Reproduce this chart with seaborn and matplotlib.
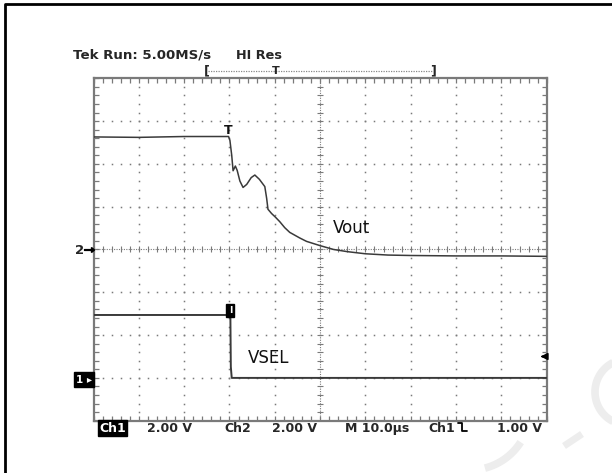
import matplotlib
matplotlib.use("Agg")
import matplotlib.pyplot as plt
import matplotlib.lines as mlines
import matplotlib.patches as mpatches
import numpy as np
import pandas as pd
import seaborn as sns

# Scope capture: time in microseconds (10 us / div), levels in screen divisions
vout_time = [0, 10, 20, 29.8, 30.1, 30.5, 30.8, 31.3, 31.7, 32.3, 33.0, 33.8, 34.8,
             35.6, 36.6, 37.8, 38.2, 38.5, 39.3, 40.1, 41.1, 42.2, 43.3, 45.5, 47.0,
             50, 53, 56, 60, 65, 70, 80, 90, 100]
vout_div = [6.63, 6.62, 6.64, 6.64, 6.55, 6.2, 5.84, 5.95, 5.85, 5.6, 5.45, 5.52, 5.68,
            5.74, 5.64, 5.47, 5.2, 4.94, 4.84, 4.76, 4.65, 4.51, 4.40, 4.27, 4.19,
            4.09, 4.0, 3.95, 3.9, 3.87, 3.86, 3.85, 3.85, 3.84]

vsel_time = [0, 30.2, 30.3, 30.5, 100]
vsel_div = [2.47, 2.47, 1.26, 1.0, 1.0]

trace_labels = ["Vout", "VSEL"]
header_text = ["Tek Run: 5.00MS/s", "HI Res"]
footer_text = ["Ch1", "2.00 V", "Ch2", "2.00 V", "M 10.0\u00b5s", "Ch1", "1.00 V"]

df_vout = pd.DataFrame({"t": vout_time, "v": vout_div})
df_vsel = pd.DataFrame({"t": vsel_time, "v": vsel_div})

sns.set_style("white")
plt.rcParams["font.family"] = ["DejaVu Sans"]

W, H = 612, 473
fig = plt.figure(figsize=(W / 100, H / 100), dpi=100)
ax = fig.add_axes([93.5 / W, 1 - 420.7 / H, 453.2 / W, 342.4 / H])

grey = "#7a7a7a"
trace_col = "#3a3a3a"

# graticule
ax.set_xlim(0, 100)
ax.set_ylim(0, 8)
ax.set_xticks(np.arange(0, 101, 10))
ax.set_yticks(np.arange(0, 9, 1))
ax.set_xticks(np.arange(0, 101, 2), minor=True)
ax.set_yticks(np.arange(0, 8.01, 0.2), minor=True)
ax.tick_params(which="both", direction="in", length=3.5, width=0.9, color=grey,
               top=True, right=True, bottom=True, left=True,
               labelbottom=False, labelleft=False)
for sp in ax.spines.values():
    sp.set_color(grey)
    sp.set_linewidth(1.6)

xs_dots = np.arange(0, 100.01, 2)
ys_dots = np.arange(0, 8.01, 0.2)
for gy in range(1, 8):
    if gy == 4:
        continue
    ax.plot(xs_dots, np.full_like(xs_dots, gy), ls="none", marker="s",
            ms=1.1, mew=0, color=grey, zorder=1)
for gx in range(10, 100, 10):
    if gx == 50:
        continue
    ax.plot(np.full_like(ys_dots, gx), ys_dots, ls="none", marker="s",
            ms=1.1, mew=0, color=grey, zorder=1)

# centre cross with minor marks
ax.axhline(4, color=grey, lw=0.8, ls=(0, (1, 1.2)), zorder=1)
ax.axvline(50, color=grey, lw=0.8, ls=(0, (1, 1.2)), zorder=1)
ax.plot(xs_dots, np.full_like(xs_dots, 4), ls="none", marker="|", ms=4,
        mew=0.8, color=grey, zorder=1)
ax.plot(np.full_like(ys_dots, 50), ys_dots, ls="none", marker="_", ms=4,
        mew=0.8, color=grey, zorder=1)

# traces
sns.lineplot(data=df_vout, x="t", y="v", ax=ax, color=trace_col, lw=1.1,
             estimator=None, sort=False, zorder=3)
sns.lineplot(data=df_vsel, x="t", y="v", ax=ax, color=trace_col, lw=1.4,
             estimator=None, sort=False, zorder=3)
ax.set_xlabel("")
ax.set_ylabel("")

ax.text(56.9, 4.5, trace_labels[0], fontsize=12, ha="center", va="center", color="#111")
ax.text(38.6, 1.47, trace_labels[1], fontsize=12, ha="center", va="center", color="#111")

# trigger markers on the traces
ax.text(vout_time[3], 6.78, "T", fontsize=9, fontweight="bold", ha="center",
        va="center", color="#111", zorder=4)
ax.text(vsel_time[1], 2.57, "I", fontsize=6.5, fontweight="bold", ha="center",
        va="center", color="white", zorder=4,
        bbox=dict(boxstyle="square,pad=0.25", fc="black", ec="black"))
# trigger level arrow at right edge
ax.annotate("", xy=(98.0, 1.5), xytext=(100, 1.5),
            arrowprops=dict(arrowstyle="-|>", color="black", lw=1.2,
                            mutation_scale=10), zorder=4)

# channel ground markers left of the screen
fig.text(79.5 / W, 1 - 250 / H, "2", fontsize=9.5, fontweight="bold",
         ha="center", va="center")
fig.add_artist(mpatches.FancyArrow(84.5 / W, 1 - 250 / H, 7 / W, 0, width=0.8 / H,
                                   head_width=5 / H, head_length=3 / W,
                                   color="black", transform=fig.transFigure))
fig.text(84 / W, 1 - 379.5 / H, "1 \u25b8", fontsize=7.5, fontweight="bold",
         color="white", ha="center", va="center",
         bbox=dict(boxstyle="square,pad=0.2", fc="black", ec="black"))

# header
fig.text(72.7 / W, 1 - 55.5 / H, header_text[0], fontsize=9.6, fontweight="bold",
         ha="left", va="center")
fig.text(235.7 / W, 1 - 55.5 / H, header_text[1], fontsize=9.3, fontweight="bold",
         ha="left", va="center")
# record-length bar
yb = 1 - 71 / H
fig.add_artist(mlines.Line2D([208 / W, 432 / W], [yb, yb], color="#888",
                             lw=0.9, ls=(0, (1, 1))))
fig.text(207 / W, yb, "[", fontsize=9, fontweight="bold", ha="center", va="center")
fig.text(433.5 / W, yb, "]", fontsize=9, fontweight="bold", ha="center", va="center")
fig.text(276 / W, yb, "T", fontsize=8, fontweight="bold", ha="center", va="center")

# footer
yf = 1 - 428 / H
fig.text(99 / W, yf, footer_text[0], fontsize=9, fontweight="bold", color="white",
         ha="left", va="center",
         bbox=dict(boxstyle="square,pad=0.1", fc="black", ec="black"))
fx = [146.7, 224, 271.7, 345, 428, 497]
for x, s in zip(fx, footer_text[1:]):
    fig.text(x / W, yf, s, fontsize=9, fontweight="bold", ha="left", va="center")
# falling-edge slope symbol
sx = [458 / W, 462 / W, 462 / W, 467 / W]
sy = [1 - 423 / H, 1 - 423 / H, 1 - 431 / H, 1 - 431 / H]
fig.add_artist(mlines.Line2D(sx, sy, color="black", lw=1.3))

# page frame (top and left edges)
fig.add_artist(mlines.Line2D([5 / W, 5 / W, 1], [0, 1 - 4.5 / H, 1 - 4.5 / H],
                             color="black", lw=2))

# faint watermark strokes
wm = "#ededed"
th = np.linspace(np.pi * 0.62, np.pi * 1.38, 40)
fig.add_artist(mlines.Line2D((628 + 33 * np.cos(th)) / W, 1 - (392 + 33 * np.sin(th)) / H,
                             color=wm, lw=5.5, solid_capstyle="butt"))
fig.add_artist(mlines.Line2D([564 / W, 582 / W], [1 - 446 / H, 1 - 434 / H],
                             color=wm, lw=5, solid_capstyle="butt"))
th2 = np.linspace(np.pi * 0.18, np.pi * 0.42, 20)
fig.add_artist(mlines.Line2D((470 + 60 * np.cos(th2)) / W, 1 - (410 + 60 * np.sin(th2)) / H,
                             color=wm, lw=5.5, solid_capstyle="butt"))

fig.savefig("out.png", dpi=100)
